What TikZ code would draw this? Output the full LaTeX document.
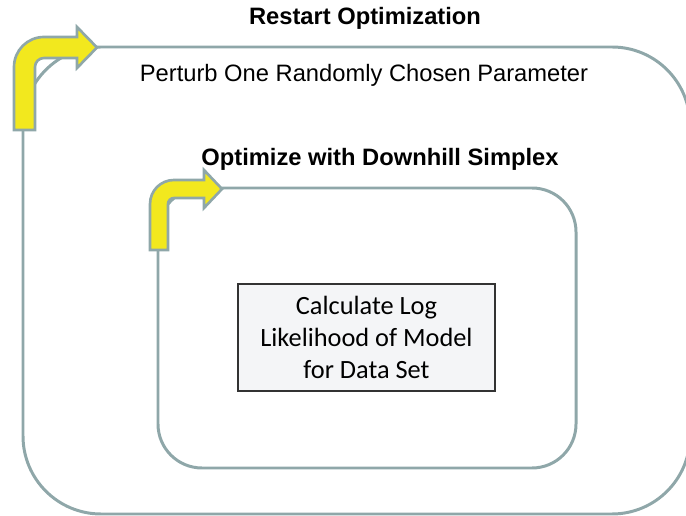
\documentclass[tikz,border=0pt]{standalone}
\usepackage{fontspec}
\setmainfont{Liberation Sans}
\newfontfamily\calibrifont{Carlito}
\usetikzlibrary{positioning}
\definecolor{framegray}{HTML}{8FA7A9}
\definecolor{arrowyellow}{HTML}{F2E81E}
\definecolor{boxfill}{HTML}{F4F5F7}

\begin{document}
\begin{tikzpicture}[x=0.02cm, y=-0.02cm,
  loopframe/.style={draw=framegray, line width=1.7pt},
  bent/.style={draw=framegray, fill=arrowyellow, line width=1.5pt, line join=miter},
  heading/.style={font=\fontsize{13.5}{16}\selectfont\bfseries},
  label/.style={font=\fontsize{13.5}{16}\selectfont},
  calcbox/.style={draw=black!80, fill=boxfill, line width=0.7pt, minimum width=5.14cm, minimum height=2.14cm, align=center, font=\calibrifont\fontsize{15}{18.3}\selectfont}]
\clip (0,0) rectangle (686,516);
% outer loop: restart
\draw[loopframe, rounded corners=1.56cm] (23,47) rectangle (690,514);
\node[heading] (restart) at (365,18) {Restart Optimization};
\node[label] (perturb) at (364,75) {Perturb One Randomly Chosen Parameter};
\draw[bent] (14,130) -- (14,67) .. controls (14,50.4) and (27.4,37) .. (44,37) -- (77,37) -- (77,27) -- (97,47.5) -- (77,68) -- (77,58) -- (44,58) .. controls (39,58) and (35,62) .. (35,67) -- (35,130) -- cycle;
% inner loop: simplex
\draw[loopframe, rounded corners=0.88cm] (158,188) rectangle (576,468);
\node[heading] (simplex) at (380,159) {Optimize with Downhill Simplex};
\draw[bent] (150,250) -- (150,204) .. controls (150,190.7) and (160.7,180) .. (174,180) -- (204,180) -- (204,170) -- (222,189) -- (204,208) -- (204,198) -- (174,198) .. controls (170.7,198) and (168,200.7) .. (168,204) -- (168,250) -- cycle;
% likelihood
\node[calcbox] (loglik) at (366.5,337.5) {Calculate Log\\Likelihood of Model\\for Data Set};
\end{tikzpicture}
\end{document}
